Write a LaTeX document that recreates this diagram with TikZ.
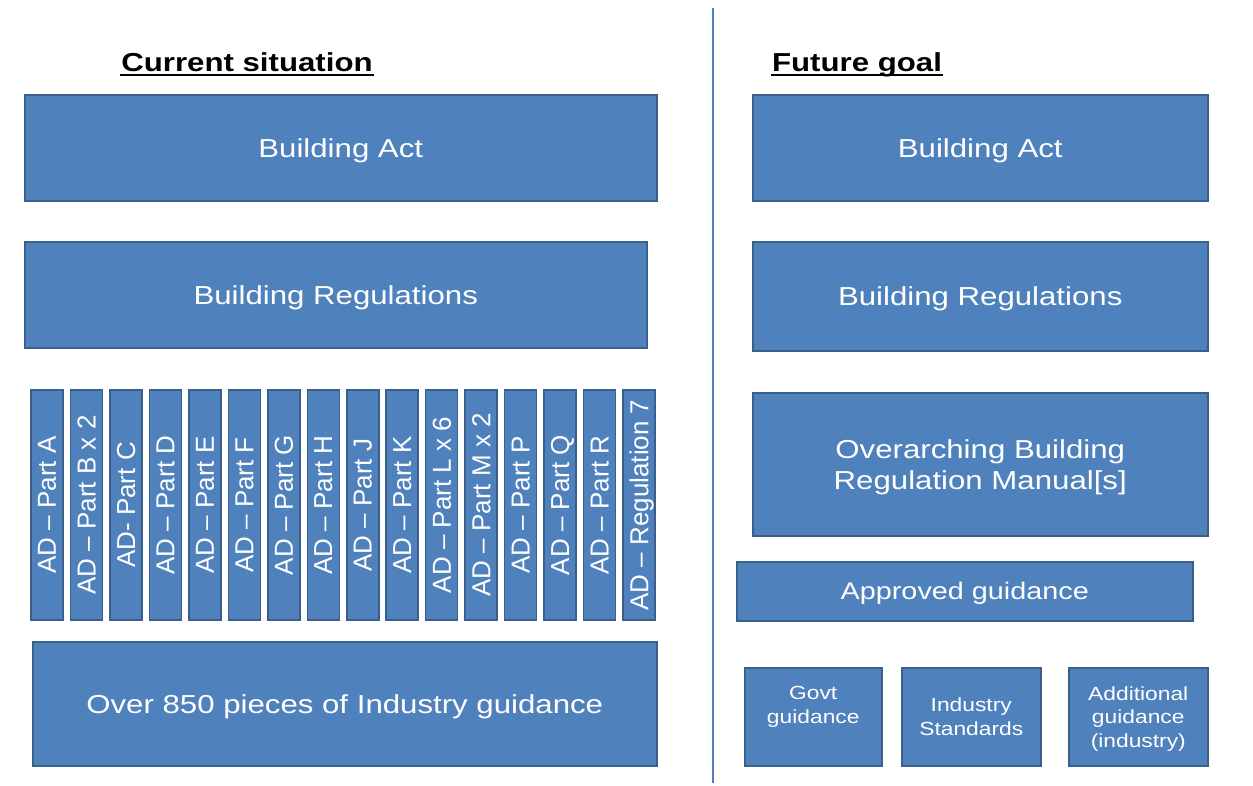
\documentclass[tikz,border=0pt]{standalone}
\usepackage{fontspec}
\setmainfont{Liberation Sans}[FakeStretch=1.2]
\newfontfamily\stripfont{Liberation Sans}
\usepackage{xcolor}
\usetikzlibrary{positioning}
\definecolor{boxblue}{HTML}{4F81BD}
\definecolor{boxedge}{HTML}{3A5F8B}

\begin{document}
\begin{tikzpicture}[x=1pt, y=-1pt,
      blk/.style={draw=boxedge, line width=1.5pt, fill=boxblue, text=white,
        anchor=north west, inner sep=0pt, align=center, text depth=0pt,
        font=\fontsize{26}{31}\selectfont},
      small/.style={blk, minimum width=137pt, minimum height=98pt,
        font=\fontsize{19}{23.5}\selectfont},
      strip/.style={blk, anchor=center, rotate=90, minimum width=230pt,
        minimum height=32pt, font=\stripfont\fontsize{26}{31}\selectfont},
      head/.style={font=\bfseries\fontsize{26}{31}\selectfont, inner sep=0pt,
        text depth=0pt, anchor=base},
      uline/.style={line width=2pt, shorten >=-1pt, shorten <=-1pt}]
      \useasboundingbox (0,0) rectangle (1253,785);
      % current situation
      \node[head] (cur) at (247,71) {Current situation};
      \draw[uline] ([yshift=-4pt]cur.south west) -- ([yshift=-4pt]cur.south east);
      \node[blk, minimum width=632pt, minimum height=106pt] (act) at (24,94) {Building Act};
      \node[blk, minimum width=622pt, minimum height=106pt] (regs) at (24,241) {Building Regulations};
      \foreach \lbl [count=\i from 0] in {AD – Part A, AD – Part B x 2, AD- Part C,
          AD – Part D, AD – Part E, AD – Part F, AD – Part G, AD – Part H,
          AD – Part J, AD – Part K, AD – Part L x 6, AD – Part M x 2,
          AD – Part P, AD – Part Q, AD – Part R, AD – Regulation 7}
        \node[strip] (ad\i) at ({47+39.47*\i},505) {\lbl};
      \node[blk, minimum width=624pt, minimum height=124pt] (ind) at (32,641) {Over 850 pieces of Industry guidance};
      % divider
      \coordinate (divtop) at (713,8);
      \coordinate (divbot) at (713,783);
      \draw[boxblue, line width=2.5pt] (divtop) -- (divbot);
      % future goal
      \node[head] (fut) at (857,71) {Future goal};
      \draw[uline] ([yshift=-4pt]fut.south west) -- ([yshift=-4pt]fut.south east);
      \node[blk, minimum width=455pt, minimum height=106pt] (act2) at (752,94) {Building Act};
      \node[blk, minimum width=455pt, minimum height=109pt] (regs2) at (752,241) {Building Regulations};
      \node[blk, minimum width=455pt, minimum height=143pt] (manual) at (752,392) {Overarching Building\\Regulation Manual[s]};
      \node[blk, minimum width=456pt, minimum height=59pt, font=\fontsize{24}{29}\selectfont] (appr) at (736,561) {Approved guidance};
      \node[small] (govt) at (744,667) {Govt\\guidance\\\mbox{}};
      \node[small, minimum width=139pt] (std) at (901,667) {Industry\\Standards};
      \node[small, minimum width=139pt] (addl) at (1068,667) {Additional\\guidance\\(industry)};
    \end{tikzpicture}
\end{document}
